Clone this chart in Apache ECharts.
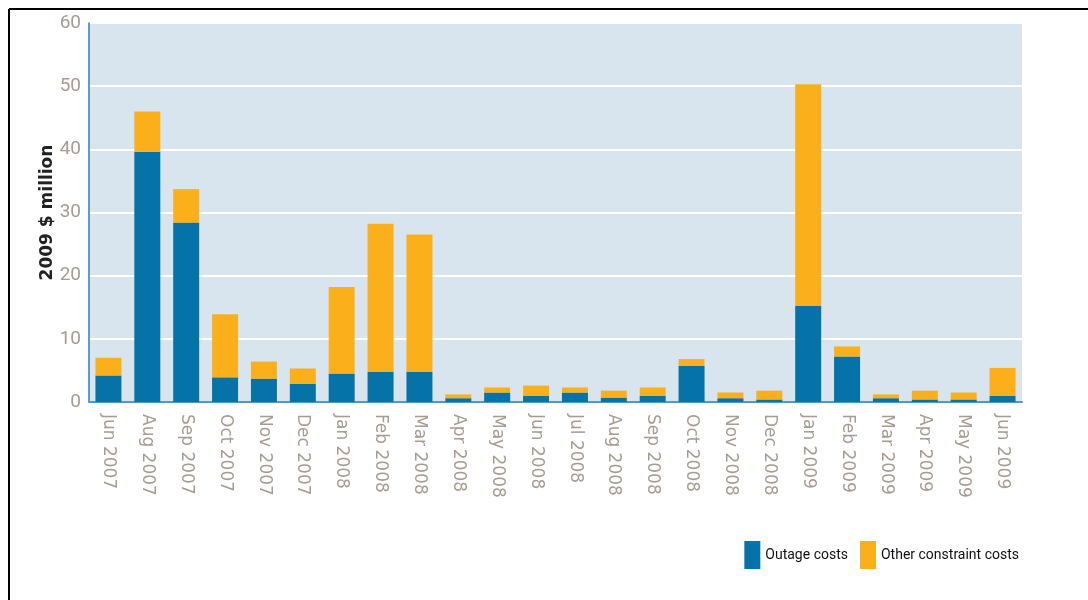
<!DOCTYPE html>
<html>
<head>
<meta charset="utf-8">
<script src="https://cdn.jsdelivr.net/npm/echarts@6/dist/echarts.min.js"></script>
<style>
html, body { margin: 0; padding: 0; background: #fff; }
#chart { width: 1088px; height: 600px; }
</style>
</head>
<body>
<div id="chart"></div>
<script>
var months = ['Jun 2007', 'Aug 2007', 'Sep 2007', 'Oct 2007', 'Nov 2007', 'Dec 2007',
    'Jan 2008', 'Feb 2008', 'Mar 2008', 'Apr 2008', 'May 2008', 'Jun 2008',
    'Jul 2008', 'Aug 2008', 'Sep 2008', 'Oct 2008', 'Nov 2008', 'Dec 2008',
    'Jan 2009', 'Feb 2009', 'Mar 2009', 'Apr 2009', 'May 2009', 'Jun 2009'];
var outage = [4.2, 39.6, 28.4, 3.9, 3.7, 2.9, 4.5, 4.8, 4.8, 0.6, 1.5, 1.0,
    1.5, 0.7, 1.0, 5.7, 0.6, 0.4, 15.2, 7.2, 0.6, 0.4, 0.4, 1.0];
var other = [2.8, 6.4, 5.3, 10.0, 2.7, 2.4, 13.7, 23.4, 21.7, 0.6, 0.8, 1.6,
    0.8, 1.1, 1.3, 1.1, 0.9, 1.4, 35.1, 1.6, 0.6, 1.4, 1.1, 4.4];
var yTicks = [0, 10, 20, 30, 40, 50, 60];

var chart = echarts.init(document.getElementById('chart'));

chart.setOption({
    animation: false,
    grid: {
        left: 89, right: 66, top: 23, bottom: 198,
        show: true, backgroundColor: '#d8e5ef', borderWidth: 0
    },
    legend: {
        right: 64, bottom: 26,
        itemWidth: 16, itemHeight: 28, itemGap: 12,
        icon: 'rect',
        textStyle: { fontFamily: 'Roboto', fontSize: 14, color: '#111' },
        data: ['Outage costs', 'Other constraint costs']
    },
    xAxis: {
        type: 'category',
        data: months,
        axisLine: { lineStyle: { color: '#4a9ccc', width: 2 } },
        axisTick: { show: false },
        axisLabel: {
            rotate: -90, interval: 0, margin: 12,
            color: '#a59d93', fontSize: 17, fontFamily: 'DejaVu Sans'
        }
    },
    yAxis: {
        type: 'value',
        min: yTicks[0], max: yTicks[yTicks.length - 1], interval: 10,
        name: '2009 $ million',
        nameLocation: 'middle', nameGap: 33, nameRotate: 90, nameMoveOverlap: false,
        nameTextStyle: { color: '#222', fontSize: 17, fontWeight: 'bold', fontFamily: 'DejaVu Sans' },
        axisLine: { show: true, lineStyle: { color: '#2a7fb5', width: 1.5 } },
        axisTick: { show: false },
        axisLabel: { color: '#a59d93', fontSize: 19, fontFamily: 'Roboto', margin: 8 },
        splitLine: { lineStyle: { color: '#ffffff', width: 2 } }
    },
    series: [
        {
            name: 'Outage costs', type: 'bar', stack: 'c', barWidth: 26,
            itemStyle: { color: '#0673a8' },
            data: outage
        },
        {
            name: 'Other constraint costs', type: 'bar', stack: 'c', barWidth: 26,
            itemStyle: { color: '#fbb01b' },
            data: other
        }
    ],
    graphic: [
        { type: 'line', shape: { x1: 9, y1: 9, x2: 1088, y2: 9 }, style: { stroke: '#000', lineWidth: 2 } },
        { type: 'line', shape: { x1: 9, y1: 9, x2: 9, y2: 600 }, style: { stroke: '#000', lineWidth: 2 } }
    ]
});
</script>
</body>
</html>
